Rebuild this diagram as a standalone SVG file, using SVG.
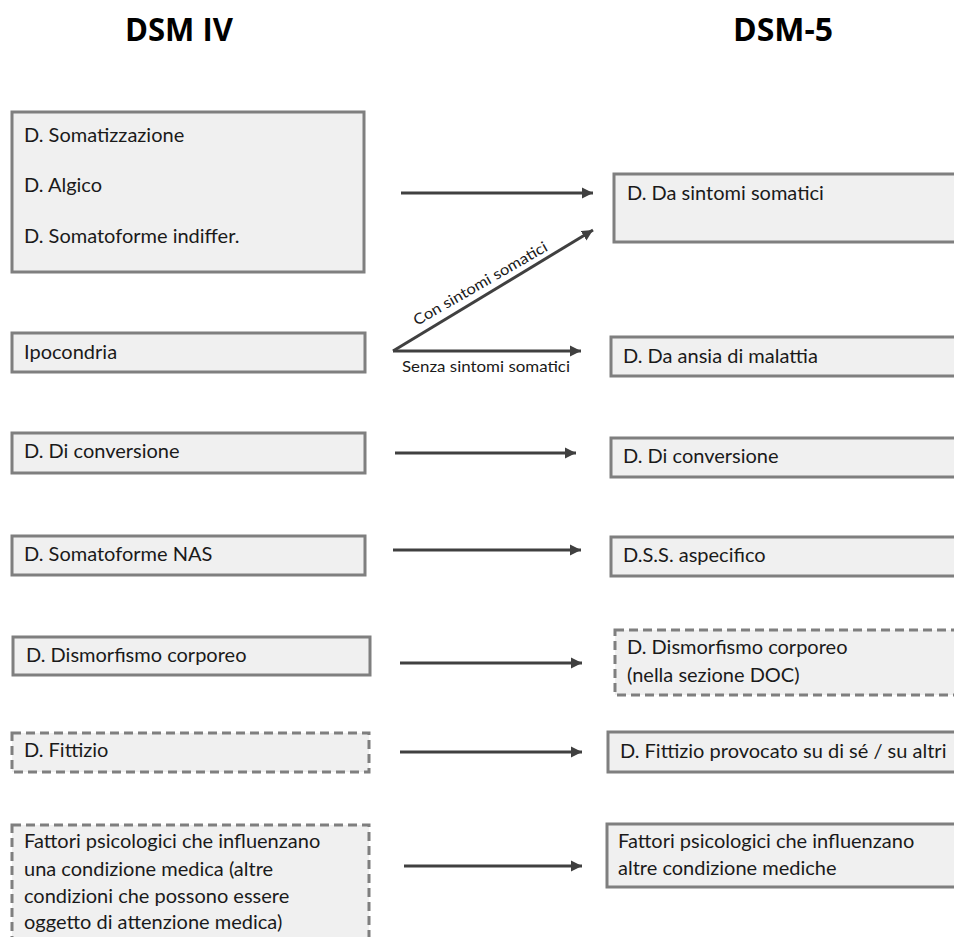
<svg xmlns="http://www.w3.org/2000/svg" width="954" height="937" viewBox="0 0 954 937">
<defs>
<marker id="ah" markerUnits="userSpaceOnUse" markerWidth="12" markerHeight="12" viewBox="0 0 12 12" refX="11" refY="6" orient="auto">
<path d="M0,0.5 L11,6 L0,11.5 Z" fill="#404040"/>
</marker>
</defs>
<style>
.box{fill:#f0f0f0;stroke:#7f7f7f;stroke-width:3}
.dash{stroke-dasharray:9 5}
.t{font-family:Lato,"Open Sans","Liberation Sans",sans-serif;font-size:20px;fill:#1a1a1a}
.s{font-family:Lato,"Open Sans","Liberation Sans",sans-serif;font-size:15px;fill:#1a1a1a}
.h{font-family:"Open Sans","Liberation Sans",sans-serif;font-weight:bold;font-size:33px;fill:#000}
.c{stroke:#404040;stroke-width:3;fill:none;marker-end:url(#ah)}
</style>
<rect width="954" height="937" fill="#fff"/>
<text class="h" x="125" y="41" textLength="108" lengthAdjust="spacingAndGlyphs">DSM IV</text>
<text class="h" x="733" y="41" textLength="100" lengthAdjust="spacingAndGlyphs">DSM-5</text>

<g id="l1"><rect class="box" x="12" y="112" width="352" height="160"/>
<text class="t" x="24" y="142">D. Somatizzazione</text>
<text class="t" x="24" y="192">D. Algico</text>
<text class="t" x="24" y="243">D. Somatoforme indiffer.</text></g>
<g id="r1"><rect class="box" x="614" y="174" width="345" height="68"/>
<text class="t" x="627" y="200">D. Da sintomi somatici</text></g>

<g id="l2"><rect class="box" x="12" y="333" width="353" height="39"/>
<text class="t" x="24" y="359">Ipocondria</text></g>
<g id="r2"><rect class="box" x="611" y="337" width="348" height="39"/>
<text class="t" x="623" y="363">D. Da ansia di malattia</text></g>

<g id="l3"><rect class="box" x="12" y="433" width="353" height="40"/>
<text class="t" x="24" y="458">D. Di conversione</text></g>
<g id="r3"><rect class="box" x="611" y="438" width="348" height="39"/>
<text class="t" x="623" y="463">D. Di conversione</text></g>

<g id="l4"><rect class="box" x="12" y="536" width="353" height="39"/>
<text class="t" x="24" y="561">D. Somatoforme NAS</text></g>
<g id="r4"><rect class="box" x="611" y="537" width="348" height="39"/>
<text class="t" x="623" y="562">D.S.S. aspecifico</text></g>

<g id="l5"><rect class="box" x="13" y="637" width="357" height="38"/>
<text class="t" x="26" y="662">D. Dismorfismo corporeo</text></g>
<g id="r5"><rect class="box dash" x="615" y="630" width="344" height="65"/>
<text class="t" x="627" y="654">D. Dismorfismo corporeo</text>
<text class="t" x="627" y="682">(nella sezione DOC)</text></g>

<g id="l6"><rect class="box dash" x="12" y="733" width="357" height="39"/>
<text class="t" x="24" y="757">D. Fittizio</text></g>
<g id="r6"><rect class="box" x="608" y="732" width="351" height="40"/>
<text class="t" x="620" y="758">D. Fittizio provocato su di sé / su altri</text></g>

<g id="l7"><rect class="box dash" x="12" y="825" width="357" height="130"/>
<text class="t" x="24" y="848">Fattori psicologici che influenzano</text>
<text class="t" x="24" y="876">una condizione medica (altre</text>
<text class="t" x="24" y="903">condizioni che possono essere</text>
<text class="t" x="24" y="929">oggetto di attenzione medica)</text></g>
<g id="r7"><rect class="box" x="607" y="824" width="352" height="63"/>
<text class="t" x="618" y="848">Fattori psicologici che influenzano</text>
<text class="t" x="618" y="875">altre condizione mediche</text></g>

<g id="connectors">
<line class="c" x1="401" y1="193" x2="593" y2="193"/>
<line class="c" x1="393" y1="351" x2="593" y2="230"/>
<line class="c" x1="393" y1="351" x2="581" y2="351"/>
<line class="c" x1="395" y1="453" x2="576" y2="453"/>
<line class="c" x1="393" y1="550" x2="581" y2="550"/>
<line class="c" x1="400" y1="663" x2="582" y2="663"/>
<line class="c" x1="400" y1="752" x2="582" y2="752"/>
<line class="c" x1="404" y1="866" x2="582" y2="866"/>
<text class="s" transform="translate(417,326) rotate(-30)" textLength="152" lengthAdjust="spacingAndGlyphs">Con sintomi somatici</text>
<text class="s" x="402" y="372" textLength="168" lengthAdjust="spacingAndGlyphs">Senza sintomi somatici</text>
</g>
</svg>
